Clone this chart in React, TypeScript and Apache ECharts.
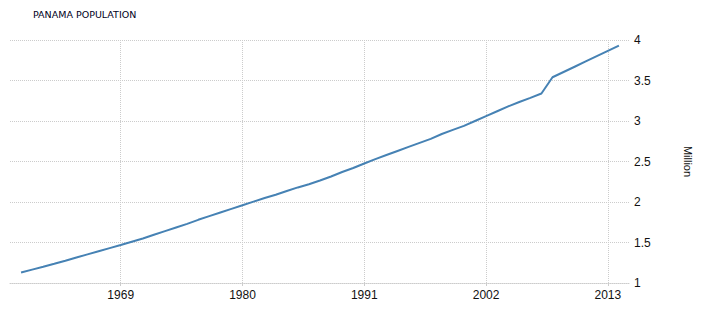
import React, { useEffect, useRef } from "react";
import * as echarts from "echarts";

const title = "PANAMA POPULATION";
const unitLabel = "Million";
const firstYear = 1960;
const population = [
  1.13, 1.165, 1.2, 1.237, 1.275, 1.314, 1.353, 1.392, 1.431, 1.47,
  1.51, 1.55, 1.595, 1.64, 1.685, 1.73, 1.78, 1.825, 1.87, 1.915,
  1.96, 2.005, 2.05, 2.09, 2.135, 2.18, 2.22, 2.265, 2.315, 2.37,
  2.42, 2.475, 2.53, 2.58, 2.63, 2.68, 2.73, 2.78, 2.84, 2.89,
  2.94, 3.0, 3.06, 3.12, 3.18, 3.235, 3.285, 3.34, 3.54, 3.605,
  3.67, 3.735, 3.8, 3.865, 3.93,
];
const labelYears = [1969, 1980, 1991, 2002, 2013];

export default function App() {
  const ref = useRef<HTMLDivElement>(null);
  useEffect(() => {
    if (!ref.current) return;
    const chart = echarts.init(ref.current, null, { renderer: "svg" });
    const cats: string[] = [];
    const vals: (number | null)[] = [];
    cats.push(String(firstYear - 1));
    vals.push(null);
    population.forEach((v, i) => {
      cats.push(String(firstYear + i));
      vals.push(v);
    });
    cats.push(String(firstYear + population.length));
    vals.push(null);
    const show = (_i: number, v: string) => labelYears.includes(Number(v));
    chart.setOption({
      animation: false,
      title: {
        text: title,
        left: 28,
        top: 4,
        textStyle: {
          fontFamily: "DejaVu Sans",
          fontSize: 9.5,
          fontWeight: "normal",
          color: "#000022",
        },
      },
      grid: { left: 10, right: 69, top: 40, bottom: 27 },
      xAxis: {
        type: "category",
        boundaryGap: false,
        data: cats,
        axisLine: { show: true, lineStyle: { color: "#cccccc", type: "dotted" } },
        axisTick: { show: true, length: 3, interval: show, lineStyle: { color: "#cccccc" } },
        axisLabel: {
          interval: show,
          color: "#111",
          fontFamily: "Liberation Sans",
          fontSize: 12,
          margin: 6,
        },
        splitLine: {
          show: true,
          interval: show,
          lineStyle: { color: "#cccccc", type: "dotted" },
        },
      },
      yAxis: {
        type: "value",
        position: "right",
        min: 1,
        max: 4,
        interval: 0.5,
        name: unitLabel,
        nameLocation: "middle",
        nameRotate: -90,
        nameGap: 52,
        nameTextStyle: { color: "#111", fontFamily: "Liberation Sans", fontSize: 11 },
        axisLine: { show: false },
        axisTick: { show: false },
        axisLabel: {
          color: "#111",
          fontFamily: "Liberation Sans",
          fontSize: 12,
          margin: 4,
        },
        splitLine: { show: true, lineStyle: { color: "#cccccc", type: "dotted" } },
      },
      series: [
        {
          type: "line",
          data: vals,
          showSymbol: false,
          symbol: "none",
          lineStyle: { color: "#4682b4", width: 2 },
        },
      ],
    });
    return () => chart.dispose();
  }, []);
  return <div ref={ref} style={{ width: 701, height: 310, position: "absolute", left: 0, top: 0 }} />;
}
